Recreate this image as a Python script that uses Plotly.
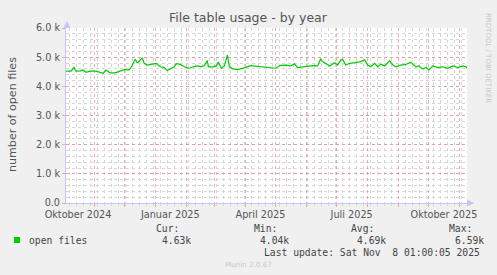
import plotly.graph_objects as go

# ---- data ----
dates = [
    "2024-10-04", "2024-10-09", "2024-10-12", "2024-10-14", "2024-10-18", "2024-10-21",
    "2024-10-24", "2024-10-28", "2024-11-03", "2024-11-07", "2024-11-10", "2024-11-13",
    "2024-11-15", "2024-11-17", "2024-11-22", "2024-11-27", "2024-12-02", "2024-12-05",
    "2024-12-07", "2024-12-09", "2024-12-12", "2024-12-14", "2024-12-16", "2024-12-19",
    "2024-12-21", "2024-12-24", "2024-12-29", "2025-01-02", "2025-01-06", "2025-01-10",
    "2025-01-13", "2025-01-17", "2025-01-20", "2025-01-22", "2025-01-25", "2025-01-29",
    "2025-02-01", "2025-02-04", "2025-02-08", "2025-02-13", "2025-02-16", "2025-02-19",
    "2025-02-22", "2025-02-23", "2025-02-28", "2025-03-03", "2025-03-05", "2025-03-08",
    "2025-03-11", "2025-03-14", "2025-03-16", "2025-03-20", "2025-03-25", "2025-04-01",
    "2025-04-05", "2025-04-08", "2025-04-18", "2025-04-25", "2025-05-01", "2025-05-06",
    "2025-05-11", "2025-05-16", "2025-05-20", "2025-05-23", "2025-05-28", "2025-06-02",
    "2025-06-07", "2025-06-12", "2025-06-15", "2025-06-17", "2025-06-20", "2025-06-24",
    "2025-06-29", "2025-07-02", "2025-07-05", "2025-07-07", "2025-07-10", "2025-07-14",
    "2025-07-19", "2025-07-24", "2025-07-29", "2025-08-01", "2025-08-04", "2025-08-08",
    "2025-08-11", "2025-08-14", "2025-08-18", "2025-08-23", "2025-08-26", "2025-08-29",
    "2025-09-03", "2025-09-08", "2025-09-13", "2025-09-18", "2025-09-21", "2025-09-25",
    "2025-09-28", "2025-10-01", "2025-10-05", "2025-10-10", "2025-10-15", "2025-10-20",
    "2025-10-25", "2025-10-30", "2025-11-04", "2025-11-07", "2025-11-08",
]
open_files = [
    4520, 4520, 4650, 4520, 4530, 4560,
    4480, 4520, 4520, 4480, 4450, 4560,
    4520, 4460, 4460, 4520, 4580, 4560,
    4600, 4720, 4930, 4810, 4850, 4980,
    4790, 4730, 4750, 4790, 4670, 4640,
    4540, 4620, 4670, 4780, 4760, 4700,
    4640, 4620, 4670, 4700, 4670, 4710,
    4880, 4670, 4670, 4700, 4830, 4620,
    4700, 5070, 4670, 4590, 4580, 4640,
    4700, 4700, 4670, 4640, 4620, 4720,
    4730, 4700, 4770, 4640, 4670, 4700,
    4710, 4700, 4930, 4850, 4790, 4700,
    4810, 4730, 4900, 4930, 4730, 4790,
    4810, 4840, 4900, 4730, 4670, 4790,
    4670, 4760, 4700, 4880, 4730, 4670,
    4730, 4750, 4830, 4670, 4700, 4590,
    4650, 4560, 4700, 4640, 4670, 4620,
    4700, 4640, 4700, 4670, 4620,
]
series_name = "open files"
y_tick_vals = [0, 1000, 2000, 3000, 4000, 5000, 6000]
y_tick_text = ["0.0", "1.0 k", "2.0 k", "3.0 k", "4.0 k", "5.0 k", "6.0 k"]
x_label_vals = ["2024-10-16", "2025-01-16", "2025-04-16", "2025-07-16", "2025-10-16"]
x_label_text = ["Oktober 2024", "Januar 2025", "April 2025", "Juli 2025", "Oktober 2025"]
stat_names = ["Cur:", "Min:", "Avg:", "Max:"]
stat_values = ["4.63k", "4.04k", "4.69k", "6.59k"]
last_update = "Last update: Sat Nov\u00a0 8 01:00:05 2025"
x_start, x_end = "2024-10-04 00:00", "2025-11-08 01:00"

# ---- layout geometry (pixels) ----
W, H = 497, 275
L, R, T, B = 66, 467, 28, 203
PW, PH = R - L, B - T

def px(x):
    return (x - L) / PW

def py(y):
    return (B - y) / PH

GREEN = "#00CC00"
TXT = "#555555"
MGRID = "rgba(230,140,140,0.7)"
GRID = "#D6D6D6"
AXIS = "#C6C6F5"

fig = go.Figure()
fig.add_trace(go.Scatter(x=dates, y=open_files, mode="lines",
                         line=dict(color=GREEN, width=1.2), showlegend=False,
                         hoverinfo="skip"))
# invisible trace to carry the label axis
fig.add_trace(go.Scatter(x=dates, y=open_files, mode="lines", xaxis="x2",
                         line=dict(color="rgba(0,0,0,0)", width=0), showlegend=False,
                         hoverinfo="skip"))

fig.update_layout(
    width=W, height=H,
    margin=dict(l=L, r=W - R, t=T, b=H - B, pad=0),
    paper_bgcolor="#F0F0F0", plot_bgcolor="#FFFFFF",
    font=dict(family="DejaVu Sans", size=9.7, color=TXT),
    showlegend=False,
    xaxis=dict(
        type="date", range=[x_start, x_end],
        showgrid=True, gridcolor=MGRID, griddash="dot", gridwidth=1,
        dtick="M1", tick0="2024-11-01", showticklabels=False,
        ticks="outside", ticklen=3, tickcolor=MGRID,
        showline=True, linecolor=AXIS, linewidth=1,
        zeroline=False,
        minor=dict(dtick=7 * 86400000, tick0="2024-10-07", showgrid=True,
                   gridcolor=GRID, griddash="dot", gridwidth=1,
                   ticks="outside", ticklen=2, tickcolor=GRID),
        layer="below traces",
    ),
    xaxis2=dict(
        type="date", range=[x_start, x_end], overlaying="x", side="bottom", anchor="y",
        tickvals=x_label_vals, ticktext=x_label_text, showgrid=False, ticks="",
        showline=False, zeroline=False, ticklabelstandoff=4,
        tickfont=dict(family="DejaVu Sans", size=9.7, color=TXT),
    ),
    yaxis=dict(
        range=[0, 6000], tickvals=y_tick_vals, ticktext=y_tick_text,
        showgrid=True, gridcolor=MGRID, griddash="dot", gridwidth=1,
        ticks="outside", ticklen=3, tickcolor=MGRID,
        showline=True, linecolor=AXIS, linewidth=1, zeroline=False,
        tickfont=dict(family="DejaVu Sans", size=9.7, color=TXT),
        minor=dict(dtick=200, showgrid=True, gridcolor=GRID, griddash="dot", gridwidth=1),
        layer="below traces",
    ),
)

ann = []

def add_text(text, x, y, size=9.7, family="DejaVu Sans", color=TXT, xanchor="left",
             angle=0):
    ann.append(dict(text=text, x=px(x), y=py(y), xref="paper", yref="paper",
                    xanchor=xanchor, yanchor="middle", showarrow=False,
                    textangle=angle, font=dict(size=size, family=family, color=color)))

add_text("File table usage - by year", 248.5, 18, size=12.5, xanchor="center")
add_text("number of open files", 12, 115, size=11.1, xanchor="center", angle=-90)
add_text("RRDTOOL / TOBI OETIKER", 488, 58, size=7, color="#C8C8C8",
         xanchor="center", angle=90)

MONO = "DejaVu Sans Mono"
LEG = "#444444"
add_text(series_name, 27, 240, family=MONO, color=LEG)
stat_left = [154, 252, 349, 447]
for name, val, xl in zip(stat_names, stat_values, stat_left):
    add_text(name, xl, 228, family=MONO, color=LEG)
    add_text(val, xl + 6, 240, family=MONO, color=LEG)
add_text(last_update, 482, 252, family=MONO, color=LEG, xanchor="right")
add_text("Munin 2.0.67", 248, 264, size=7.2, color="#C8C8C8", xanchor="center")
fig.update_layout(annotations=ann)

shapes = [
    # legend swatch
    dict(type="rect", xref="paper", yref="paper", x0=px(14), x1=px(20), y0=py(243),
         y1=py(237), fillcolor=GREEN, line=dict(width=0)),
    # axis arrows
    dict(type="path", xref="paper", yref="paper",
         path=f"M {px(63.5)} {py(28)} L {px(70.5)} {py(28)} L {px(67)} {py(21)} Z",
         fillcolor=AXIS, line=dict(width=0)),
    dict(type="path", xref="paper", yref="paper",
         path=f"M {px(467)} {py(199.5)} L {px(467)} {py(206.5)} L {px(474)} {py(203)} Z",
         fillcolor=AXIS, line=dict(width=0)),
]
fig.update_layout(shapes=shapes)

fig.write_html("out.html")
